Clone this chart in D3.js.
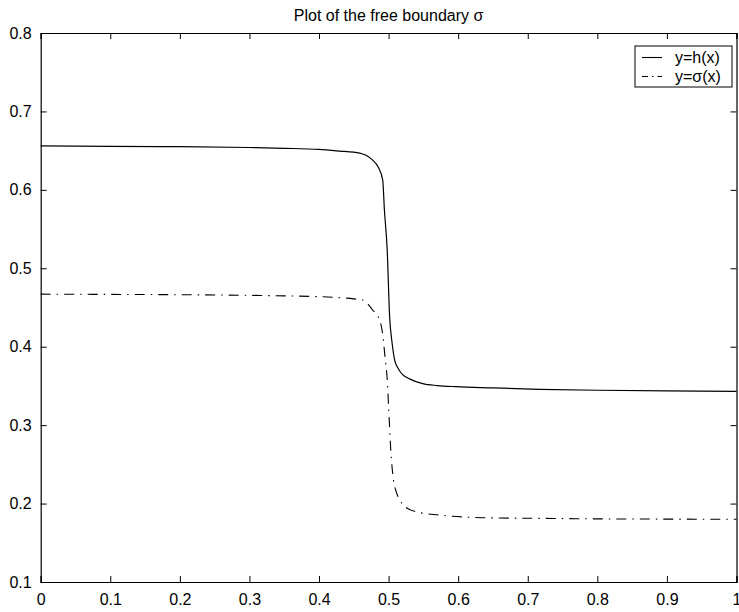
<!DOCTYPE html>
<html lang="en">
<head>
<meta charset="UTF-8">
<title>Plot of the free boundary</title>
<script src="https://cdn.jsdelivr.net/npm/d3@7"></script>
<style>
  body { margin: 0; background: #fff; }
  text { font-family: "Liberation Sans", Arial, sans-serif; fill: #000; }
</style>
</head>
<body>
<script>

var w = 739;
var h = 612;
var margin = {top: 33, right: 2.5, bottom: 30, left: 40.7};

// h(x) curve
var hX = [0, 0.1, 0.2, 0.3, 0.35, 0.4, 0.43, 0.45, 0.46, 0.47, 0.477, 0.485, 0.4915, 0.494, 0.498, 0.5015, 0.505, 0.5087, 0.514, 0.5206, 0.53, 0.549, 0.57, 0.597, 0.65, 0.717, 0.8, 0.9, 1];
var hY = [0.656, 0.6555, 0.655, 0.654, 0.653, 0.6515, 0.6495, 0.648, 0.6465, 0.643, 0.638, 0.629, 0.6126, 0.574, 0.523, 0.438, 0.405, 0.383, 0.372, 0.364, 0.359, 0.353, 0.3505, 0.349, 0.3475, 0.3457, 0.3445, 0.3437, 0.343];

// sigma(x) curve
var sX = [0, 0.1, 0.2, 0.3, 0.35, 0.4, 0.43, 0.45, 0.4627, 0.477, 0.487, 0.491, 0.4953, 0.4977, 0.5, 0.503, 0.507, 0.511, 0.516, 0.525, 0.54, 0.573, 0.635, 0.7355, 0.8, 0.9, 1];
var sY = [0.467, 0.4667, 0.4663, 0.4655, 0.4648, 0.4638, 0.4625, 0.461, 0.4596, 0.4468, 0.434, 0.419, 0.383, 0.362, 0.3235, 0.27, 0.23, 0.215, 0.2045, 0.195, 0.1896, 0.1854, 0.182, 0.181, 0.1805, 0.1802, 0.18];

var xTicks = [0, 0.1, 0.2, 0.3, 0.4, 0.5, 0.6, 0.7, 0.8, 0.9, 1];
var yTicks = [0.1, 0.2, 0.3, 0.4, 0.5, 0.6, 0.7, 0.8];
var legendLabels = ["y=h(x)", "y=\u03c3(x)"];

var x = d3.scaleLinear().domain([0, 1]).range([margin.left, w - margin.right]);
var y = d3.scaleLinear().domain([0.1, 0.8]).range([h - margin.bottom, margin.top]);

var svg = d3.select("body").append("svg")
    .attr("width", w)
    .attr("height", h);

// title
svg.append("text")
    .attr("x", (x(0) + x(1)) / 2)
    .attr("y", 21)
    .attr("text-anchor", "middle")
    .attr("font-size", 16)
    .text("Plot of the free boundary \u03c3");

var tickLen = 6;
var fmt = function(d) { return d === 0 || d === 1 ? String(d) : d3.format(".1f")(d); };

// axes, ticks pointing inward (and mirrored on the top/right)
var xAxisB = d3.axisBottom(x).tickValues(xTicks).tickSize(-tickLen).tickPadding(12).tickFormat(fmt);
var xAxisT = d3.axisTop(x).tickValues(xTicks).tickSize(-tickLen).tickFormat("");
var yAxisL = d3.axisLeft(y).tickValues(yTicks).tickSize(-tickLen).tickPadding(9).tickFormat(d3.format(".1f"));
var yAxisR = d3.axisRight(y).tickValues(yTicks).tickSize(-tickLen).tickFormat("");

function style(g) {
    g.select(".domain").attr("stroke", "#000").attr("stroke-width", 1.2);
    g.selectAll(".tick line").attr("stroke", "#000");
    g.selectAll(".tick text").attr("font-size", 16).attr("fill", "#000")
        .attr("font-family", "'Liberation Sans', Arial, sans-serif");
}

svg.append("g").attr("transform", "translate(0," + y(0.1) + ")").call(xAxisB).call(style);
svg.append("g").attr("transform", "translate(0," + y(0.8) + ")").call(xAxisT).call(style);
svg.append("g").attr("transform", "translate(" + x(0) + ",0)").call(yAxisL).call(style);
svg.append("g").attr("transform", "translate(" + x(1) + ",0)").call(yAxisR).call(style);

var line = d3.line()
    .x(function(d) { return x(d[0]); })
    .y(function(d) { return y(d[1]); })
    .curve(d3.curveMonotoneX);

var hData = d3.zip(hX, hY);
var sData = d3.zip(sX, sY);
var dashDot = "10,6,1.5,6";

svg.append("path")
    .datum(hData)
    .attr("d", line)
    .attr("fill", "none")
    .attr("stroke", "#000")
    .attr("stroke-width", 1.2);

svg.append("path")
    .datum(sData)
    .attr("d", line)
    .attr("fill", "none")
    .attr("stroke", "#000")
    .attr("stroke-width", 1.1)
    .attr("stroke-dasharray", dashDot);

// legend
var lg = svg.append("g");
lg.append("rect")
    .attr("x", 635)
    .attr("y", 46)
    .attr("width", 97)
    .attr("height", 41)
    .attr("fill", "#fff")
    .attr("stroke", "#000")
    .attr("stroke-width", 1);

var rows = lg.selectAll("g.row")
    .data(legendLabels)
    .enter()
    .append("g")
    .attr("class", "row")
    .attr("transform", function(d, i) { return "translate(0," + (57.5 + i * 19) + ")"; });

rows.append("line")
    .attr("x1", 642)
    .attr("x2", 662)
    .attr("stroke", "#000")
    .attr("stroke-width", 1.1)
    .attr("stroke-dasharray", function(d, i) { return i === 0 ? null : "6,4,1.5,4"; });

rows.append("text")
    .attr("x", 675)
    .attr("dy", "0.35em")
    .attr("font-size", 16)
    .text(function(d) { return d; });

</script>
</body>
</html>
